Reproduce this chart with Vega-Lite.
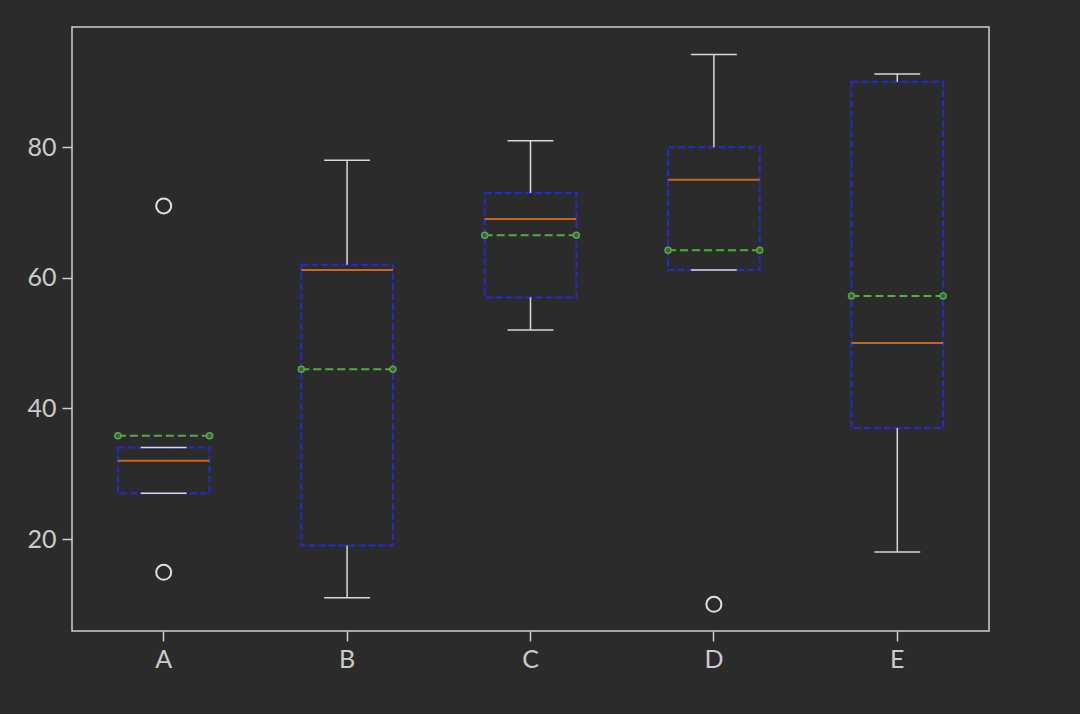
{
  "$schema": "https://vega.github.io/schema/vega-lite/v6.json",
  "width": 917,
  "height": 604,
  "autosize": {"type": "none"},
  "padding": {"left": 72, "top": 27, "right": 91, "bottom": 83},
  "background": "#2b2b2b",
  "config": {
    "view": {"stroke": "#cfcfcf", "strokeWidth": 1.5},
    "axis": {
      "labelFont": "Lato",
      "labelFontSize": 25,
      "labelColor": "#cccccc",
      "tickColor": "#cfcfcf",
      "tickSize": 10,
      "tickWidth": 1.5,
      "domain": false,
      "grid": false,
      "labelPadding": 6
    }
  },
  "datasets": {
    "stats": [
      {"cat": "A", "low": 27, "q1": 27, "med": 32, "q3": 34, "high": 34, "mean": 35.8},
      {"cat": "B", "low": 11, "q1": 19, "med": 61.2, "q3": 62, "high": 78, "mean": 46},
      {"cat": "C", "low": 52, "q1": 57, "med": 69, "q3": 73, "high": 81, "mean": 66.5},
      {"cat": "D", "low": 61.2, "q1": 61.2, "med": 75, "q3": 80, "high": 94.2, "mean": 64.2},
      {"cat": "E", "low": 18, "q1": 37, "med": 50, "q3": 90, "high": 91.2, "mean": 57.2}
    ],
    "fliers": [
      {"cat": "A", "value": 71},
      {"cat": "A", "value": 14.9},
      {"cat": "D", "value": 10}
    ]
  },
  "layer": [
    {
      "data": {"name": "stats"},
      "mark": {"type": "rect", "stroke": "#2a2acc", "strokeWidth": 2, "strokeDash": [7, 3], "fillOpacity": 0, "fill": "#2b2b2b"},
      "encoding": {
        "x": {"field": "cat", "type": "nominal", "bandPosition": 0.25, "scale": {"type": "band", "domain": ["A", "B", "C", "D", "E"], "paddingInner": 0, "paddingOuter": 0}, "axis": {"title": null, "labelAngle": 0}},
        "x2": {"field": "cat", "bandPosition": 0.75},
        "y": {"field": "q1", "type": "quantitative", "scale": {"domain": [5.92, 98.4], "nice": false, "zero": false}, "axis": {"title": null, "values": [20, 40, 60, 80]}},
        "y2": {"field": "q3"}
      }
    },
    {
      "data": {"name": "stats"},
      "mark": {"type": "rule", "color": "#d8d8d8", "strokeWidth": 1.5},
      "encoding": {
        "x": {"field": "cat", "type": "nominal"},
        "y": {"field": "q3", "type": "quantitative"},
        "y2": {"field": "high"}
      }
    },
    {
      "data": {"name": "stats"},
      "mark": {"type": "rule", "color": "#d8d8d8", "strokeWidth": 1.5},
      "encoding": {
        "x": {"field": "cat", "type": "nominal"},
        "y": {"field": "low", "type": "quantitative"},
        "y2": {"field": "q1"}
      }
    },
    {
      "data": {"name": "stats"},
      "mark": {"type": "rule", "color": "#d8d8d8", "strokeWidth": 1.5},
      "encoding": {
        "x": {"field": "cat", "type": "nominal", "bandPosition": 0.375},
        "x2": {"field": "cat", "bandPosition": 0.625},
        "y": {"field": "high", "type": "quantitative"}
      }
    },
    {
      "data": {"name": "stats"},
      "mark": {"type": "rule", "color": "#d8d8d8", "strokeWidth": 1.5},
      "encoding": {
        "x": {"field": "cat", "type": "nominal", "bandPosition": 0.375},
        "x2": {"field": "cat", "bandPosition": 0.625},
        "y": {"field": "low", "type": "quantitative"}
      }
    },
    {
      "data": {"name": "stats"},
      "mark": {"type": "rule", "color": "#c8661e", "strokeWidth": 2},
      "encoding": {
        "x": {"field": "cat", "type": "nominal", "bandPosition": 0.25},
        "x2": {"field": "cat", "bandPosition": 0.75},
        "y": {"field": "med", "type": "quantitative"}
      }
    },
    {
      "data": {"name": "stats"},
      "mark": {"type": "rule", "color": "#55aa44", "strokeWidth": 2, "strokeDash": [8, 4]},
      "encoding": {
        "x": {"field": "cat", "type": "nominal", "bandPosition": 0.25},
        "x2": {"field": "cat", "bandPosition": 0.75},
        "y": {"field": "mean", "type": "quantitative"}
      }
    },
    {
      "data": {"name": "stats"},
      "mark": {"type": "point", "shape": "circle", "size": 36, "stroke": "#55aa44", "strokeWidth": 1.5, "fill": "#3f5f35", "filled": false, "fillOpacity": 1},
      "encoding": {
        "x": {"field": "cat", "type": "nominal", "bandPosition": 0.25},
        "y": {"field": "mean", "type": "quantitative"}
      }
    },
    {
      "data": {"name": "stats"},
      "mark": {"type": "point", "shape": "circle", "size": 36, "stroke": "#55aa44", "strokeWidth": 1.5, "fill": "#3f5f35", "filled": false, "fillOpacity": 1},
      "encoding": {
        "x": {"field": "cat", "type": "nominal", "bandPosition": 0.75},
        "y": {"field": "mean", "type": "quantitative"}
      }
    },
    {
      "data": {"name": "fliers"},
      "mark": {"type": "point", "shape": "circle", "size": 225, "stroke": "#e0e0e0", "strokeWidth": 2, "filled": false, "opacity": 1},
      "encoding": {
        "x": {"field": "cat", "type": "nominal"},
        "y": {"field": "value", "type": "quantitative"}
      }
    }
  ]
}
